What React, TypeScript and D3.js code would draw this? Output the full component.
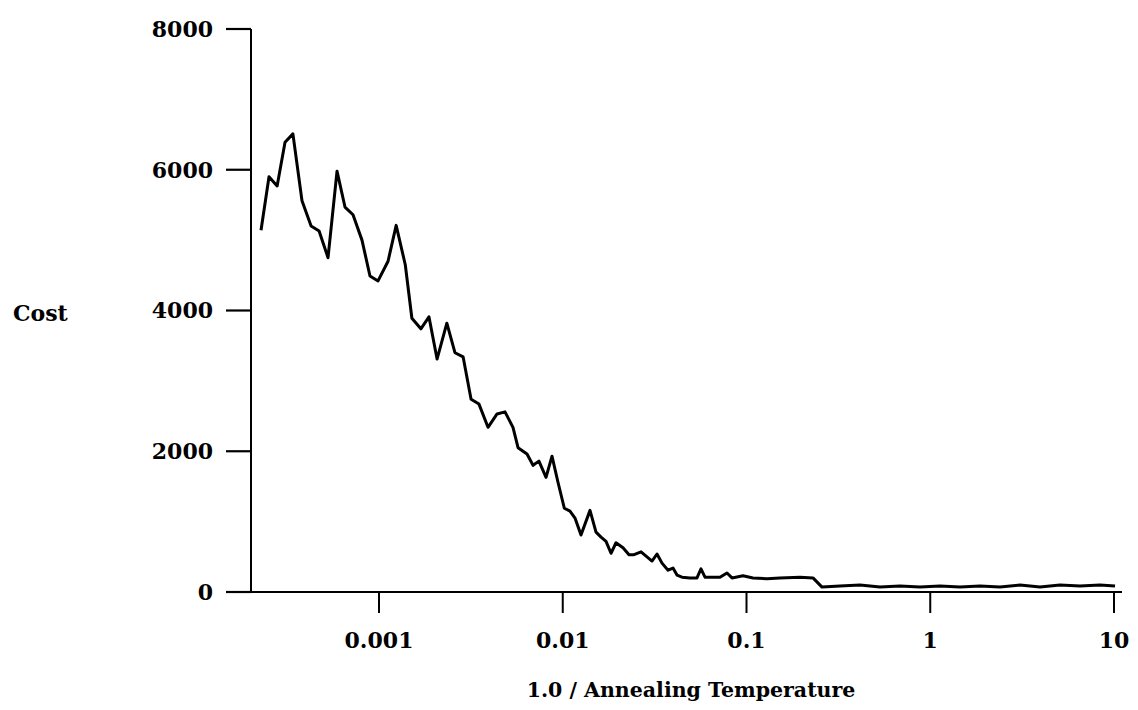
import React from "react";
import * as d3 from "d3";

// 1.0 / Annealing Temperature (x) and Cost (y)
const invTemp: number[] = [
  0.000228, 0.000252, 0.000279, 0.000308, 0.00034, 0.000381, 0.000427, 0.000472,
  0.000528, 0.000591, 0.000653, 0.000722, 0.000808, 0.000893, 0.000988, 0.00112,
  0.00124, 0.00139, 0.00151, 0.00169, 0.00187, 0.00207, 0.00234, 0.00259,
  0.00287, 0.00317, 0.0035, 0.00392, 0.00439, 0.00485, 0.00536, 0.00571,
  0.00639, 0.00689, 0.00742, 0.00811, 0.00874, 0.00942, 0.0102, 0.01095,
  0.01166, 0.01257, 0.01407, 0.01517, 0.01616, 0.0172, 0.01831, 0.01949,
  0.02128, 0.02294, 0.02443, 0.02667, 0.02874, 0.0306, 0.03258, 0.03469,
  0.0374, 0.03981, 0.04185, 0.04457, 0.04927, 0.05378, 0.05653, 0.05944,
  0.07174, 0.07832, 0.08339, 0.09571, 0.1085, 0.1293, 0.1522, 0.1956,
  0.2301, 0.2576, 0.3228, 0.4146, 0.5327, 0.6846, 0.8794, 1.13,
  1.452, 1.865, 2.397, 3.079, 3.957, 5.083, 6.531, 8.389, 10.13,
];
const cost: number[] = [
  5140, 5900, 5770, 6390, 6510, 5560, 5200, 5130,
  4750, 5980, 5470, 5360, 5000, 4490, 4420, 4700,
  5210, 4650, 3890, 3740, 3910, 3310, 3820, 3400,
  3340, 2740, 2670, 2340, 2530, 2560, 2340, 2050,
  1960, 1800, 1860, 1630, 1930, 1560, 1190, 1150,
  1050, 810, 1160, 850, 780, 720, 550, 700,
  630, 530, 530, 570, 500, 440, 540, 410,
  310, 340, 240, 210, 200, 200, 330, 210,
  210, 270, 200, 230, 200, 190, 200, 210,
  200, 70, 85, 100, 70, 85, 70, 85,
  70, 85, 70, 100, 70, 100, 85, 100, 85,
];
const xTicks: number[] = [0.001, 0.01, 0.1, 1, 10];
const xTickLabels: string[] = ["0.001", "0.01", "0.1", "1", "10"];
const yTicks: number[] = [0, 2000, 4000, 6000, 8000];

const W = 1138;
const H = 710;
const FONT = "'DejaVu Serif', 'Liberation Serif', serif";

export default function App() {
  const x = d3.scaleLog().domain([0.001, 10]).range([379, 1114]);
  const y = d3.scaleLinear().domain([0, 8000]).range([592, 29]);
  const axisX = 251;
  const axisY = 592;

  const pts: [number, number][] = invTemp.map((t, i) => [t, cost[i]]);
  const line = d3
    .line<[number, number]>()
    .x((d) => x(d[0]))
    .y((d) => y(d[1]));

  return (
    <svg
      width={W}
      height={H}
      style={{ position: "absolute", left: 0, top: 0, background: "#fff" }}
    >
      <rect x={0} y={0} width={W} height={H} fill="#fff" />
      {/* y axis */}
      <line x1={axisX} x2={axisX} y1={y(8000)} y2={axisY + 1} stroke="#000" strokeWidth={2} />
      {yTicks.map((t) => (
        <g key={t}>
          <line x1={226} x2={axisX} y1={y(t)} y2={y(t)} stroke="#000" strokeWidth={2.2} />
          <text
            x={213}
            y={y(t)}
            dy="0.36em"
            textAnchor="end"
            fontFamily={FONT}
            fontWeight="bold"
            fontSize={22}
            fill="#000"
          >
            {t}
          </text>
        </g>
      ))}
      {/* x axis */}
      <line x1={axisX} x2={1122} y1={axisY} y2={axisY} stroke="#000" strokeWidth={2.2} />
      {xTicks.map((t, i) => (
        <g key={t}>
          <line x1={x(t)} x2={x(t)} y1={axisY} y2={613} stroke="#000" strokeWidth={2} />
          <text
            x={x(t)}
            y={648}
            textAnchor="middle"
            fontFamily={FONT}
            fontWeight="bold"
            fontSize={22}
            fill="#000"
          >
            {xTickLabels[i]}
          </text>
        </g>
      ))}
      <text
        x={691}
        y={697}
        textAnchor="middle"
        fontFamily={FONT}
        fontWeight="bold"
        fontSize={20.5}
        fill="#000"
      >
        1.0 / Annealing Temperature
      </text>
      <text
        x={13}
        y={313}
        dy="0.36em"
        textAnchor="start"
        fontFamily={FONT}
        fontWeight="bold"
        fontSize={22}
        fill="#000"
      >
        Cost
      </text>
      {/* data */}
      <path d={line(pts) || ""} fill="none" stroke="#000" strokeWidth={3} strokeLinejoin="round" />
    </svg>
  );
}
